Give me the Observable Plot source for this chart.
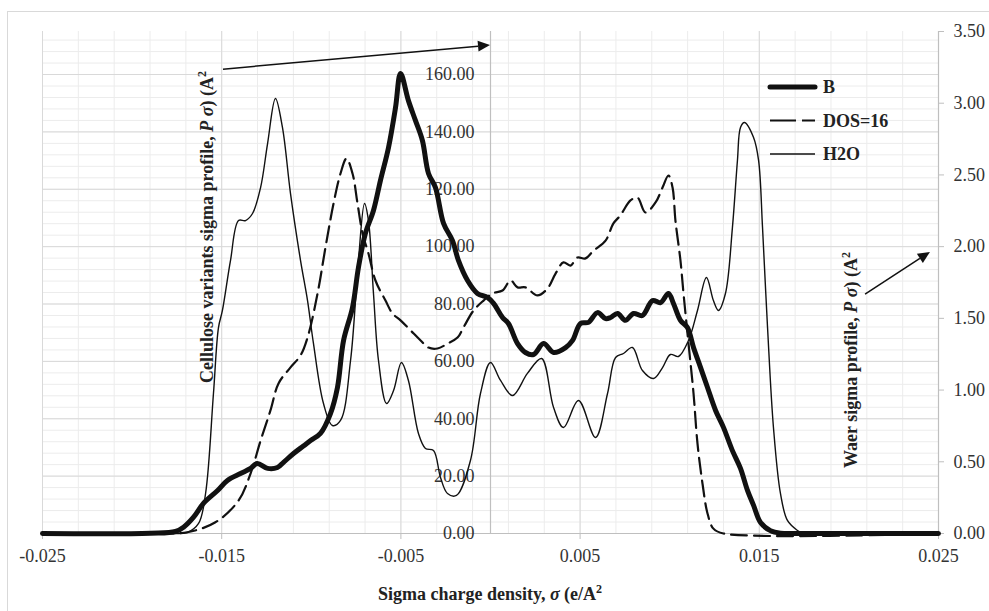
<!DOCTYPE html>
<html><head><meta charset="utf-8">
<script src="https://cdn.jsdelivr.net/npm/d3@7"></script>
<script src="https://cdn.jsdelivr.net/npm/@observablehq/plot@0.6"></script>
<style>body{margin:0;background:#fff} #chart{width:989px;height:611px}</style>
</head><body><div id="chart"></div>
<script>
// ---- data (sigma in e/A^2, profile values) ----
const seriesNames = ["B", "DOS=16", "H2O"];
const xTicks = [-0.025, -0.015, -0.005, 0.005, 0.015, 0.025];
const leftTicks = [0, 20, 40, 60, 80, 100, 120, 140, 160];
const rightTicks = [0, 0.5, 1, 1.5, 2, 2.5, 3, 3.5];
const leftMax = 175, rightMax = 3.5;

// B (left axis)
const B = [[-0.025,0],[-0.01897,0.1],[-0.01758,0.7],[-0.01713,2.2],[-0.01657,5.7],[-0.01602,10.5],[-0.01523,15.0],[-0.01468,18.5],[-0.01395,20.9],[-0.01339,22.7],[-0.01302,24.4],[-0.01244,22.7],[-0.01189,23.0],[-0.01155,24.8],[-0.01099,27.9],[-0.01044,30.5],[-0.01004,32.4],[-0.00949,34.9],[-0.00893,41.8],[-0.00854,50.9],[-0.0082,67.3],[-0.0077,78.8],[-0.00737,92.7],[-0.00698,104.6],[-0.00653,112.6],[-0.00614,123.1],[-0.00569,134.6],[-0.0053,148.5],[-0.00502,160.4],[-0.00458,150.9],[-0.00419,144.0],[-0.0038,137.0],[-0.00346,125.5],[-0.00307,120.6],[-0.00262,108.1],[-0.00212,102.1],[-0.00179,95.2],[-0.00128,88.2],[-0.00073,83.7],[-0.00017,82.3],[0.00017,80.2],[0.00067,75.3],[0.001,73.2],[0.00151,66.2],[0.00195,63.1],[0.0024,62.4],[0.00296,66.2],[0.00352,63.1],[0.00419,64.8],[0.00458,67.3],[0.00502,73.2],[0.00547,73.6],[0.00597,77.0],[0.00642,74.9],[0.0067,75.3],[0.00709,76.7],[0.00753,74.3],[0.00798,76.7],[0.00848,76.0],[0.00904,81.2],[0.00949,80.5],[0.00993,83.7],[0.01021,80.2],[0.0106,74.3],[0.01099,71.8],[0.01133,64.8],[0.01172,57.9],[0.01211,50.9],[0.01256,42.9],[0.013,37.0],[0.0135,28.9],[0.01395,22.7],[0.01434,15.0],[0.01468,9.8],[0.01507,3.8],[0.01562,1.0],[0.01618,0.1],[0.0173,0],[0.025,0]];

// DOS=16 (left axis)
const DOS = [[-0.025,0],[-0.01842,0],[-0.01691,0.45],[-0.01535,3.9],[-0.01406,11.5],[-0.01339,20.9],[-0.01283,32.4],[-0.01228,42.9],[-0.01183,52.3],[-0.01116,57.9],[-0.0106,62.1],[-0.01021,68.3],[-0.00965,83.7],[-0.00921,99.7],[-0.00876,115.0],[-0.00837,125.5],[-0.00804,130.7],[-0.0077,125.5],[-0.00742,115.0],[-0.00714,104.6],[-0.00681,97.6],[-0.00642,88.2],[-0.00586,81.2],[-0.00547,76.7],[-0.00502,74.3],[-0.00446,70.8],[-0.0039,67.3],[-0.00346,64.8],[-0.00296,64.5],[-0.0024,66.2],[-0.00184,68.3],[-0.00151,71.8],[-0.00095,77.7],[-0.00039,81.2],[0.00011,83.7],[0.00067,84.7],[0.00112,88.2],[0.00151,85.8],[0.00195,85.8],[0.00262,83.0],[0.00318,85.4],[0.00363,90.6],[0.00407,94.5],[0.00446,93.4],[0.00485,96.2],[0.0053,95.9],[0.00575,98.6],[0.00642,102.1],[0.00686,108.1],[0.00725,110.9],[0.00781,116.1],[0.0082,117.1],[0.00865,111.9],[0.00921,115.4],[0.0096,120.6],[0.00993,124.8],[0.01016,120.6],[0.01032,109.1],[0.0106,95.2],[0.01077,83.7],[0.01105,66.2],[0.01133,48.8],[0.01155,31.4],[0.01183,17.4],[0.01211,7.0],[0.01244,1.7],[0.013,0],[0.025,0]];

// H2O (right axis)
const H2O = [[-0.025,0],[-0.01786,0],[-0.01693,0.007],[-0.01629,0.07],[-0.0159,0.279],[-0.01546,0.976],[-0.01518,1.436],[-0.01496,1.555],[-0.01451,1.903],[-0.01406,2.182],[-0.01367,2.182],[-0.01328,2.231],[-0.01283,2.412],[-0.01244,2.719],[-0.012,3.033],[-0.01161,2.831],[-0.01116,2.37],[-0.0106,1.903],[-0.01021,1.624],[-0.00988,1.325],[-0.00932,0.906],[-0.00882,0.753],[-0.00837,0.788],[-0.00781,1.206],[-0.00737,1.903],[-0.00703,2.301],[-0.00681,2.182],[-0.00653,1.673],[-0.00625,1.206],[-0.0058,0.906],[-0.00541,0.997],[-0.00497,1.192],[-0.00458,1.067],[-0.00402,0.697],[-0.00363,0.593],[-0.00318,0.579],[-0.00279,0.39],[-0.0024,0.279],[-0.0019,0.265],[-0.00112,0.509],[-0.00056,0.976],[0,1.192],[0.00056,1.067],[0.00123,0.962],[0.00206,1.116],[0.00285,1.22],[0.00352,0.878],[0.00407,0.739],[0.00491,0.927],[0.00586,0.669],[0.00653,0.976],[0.00698,1.227],[0.00742,1.255],[0.00792,1.297],[0.00848,1.136],[0.0091,1.081],[0.0096,1.157],[0.01004,1.248],[0.01049,1.234],[0.01105,1.346],[0.01155,1.555],[0.01205,1.785],[0.01244,1.624],[0.01272,1.555],[0.01311,1.673],[0.0135,2.133],[0.01378,2.601],[0.01395,2.831],[0.01417,2.866],[0.01468,2.761],[0.01496,2.601],[0.01518,2.133],[0.01546,1.436],[0.01579,0.739],[0.01618,0.279],[0.01657,0.091],[0.01713,0.021],[0.01741,0.003],[0.0184,0],[0.025,0]];

// annotation arrows (data units of x and left y)
const arrows = [
  {x1: -0.0149, y1: 161.7, x2: 0, y2: 170.1},
  {x1: 0.02093, y1: 83.3, x2: 0.02455, y2: 98.0}
];

const k = leftMax / rightMax;
const minorX = d3.range(0, 26).map(i => -0.025 + i * 0.002);
const minorY = d3.range(0, 44).map(i => i * 4);
const font = "'Liberation Serif', 'Times New Roman', serif";

const plot = Plot.plot({
  width: 989, height: 611,
  marginLeft: 42, marginRight: 51, marginTop: 31, marginBottom: 78,
  style: {fontFamily: font, fontSize: "18px", background: "transparent", color: "#333"},
  x: {domain: [-0.025, 0.025]},
  y: {domain: [0, leftMax]},
  marks: [
    Plot.ruleX(minorX, {stroke: "#ececec", strokeWidth: 1}),
    Plot.ruleY(minorY, {stroke: "#ececec", strokeWidth: 1}),
    Plot.ruleX(xTicks, {stroke: "#d9d9d9", strokeWidth: 1}),
    Plot.ruleY(leftTicks, {stroke: "#d9d9d9", strokeWidth: 1}),
    Plot.ruleX([0], {stroke: "#bfbfbf", strokeWidth: 1.2}),
    Plot.ruleX([0.025], {stroke: "#bfbfbf", strokeWidth: 1.2}),
    Plot.ruleY([0], {stroke: "#bfbfbf", strokeWidth: 1.2}),
    Plot.axisX(xTicks, {tickSize: 6, tickPadding: 10, tickFormat: d => d.toFixed(3), stroke: "#bfbfbf", fill: "#333", fontSize: 18, label: null}),
    Plot.axisY(rightTicks.map(t => t * k), {anchor: "right", tickSize: 5, tickPadding: 10, tickFormat: d => (d / k).toFixed(2), stroke: "#bfbfbf", fill: "#333", fontSize: 18, label: null}),
    Plot.text(leftTicks, {x: 0, y: d => d, text: d => d.toFixed(2), textAnchor: "end", dx: -16, fill: "#333", fontSize: 18}),
    Plot.line(H2O, {x: d => d[0], y: d => d[1] * k, stroke: "#111", strokeWidth: 1.4, curve: "catmull-rom"}),
    Plot.line(DOS, {x: d => d[0], y: d => d[1], stroke: "#111", strokeWidth: 2.2, strokeDasharray: "16,7", curve: "catmull-rom"}),
    Plot.line(B, {x: d => d[0], y: d => d[1], stroke: "#111", strokeWidth: 5, strokeLinejoin: "round", strokeLinecap: "round", curve: "catmull-rom"})
  ]
});

const svg = d3.select(plot);
// outer chart border
svg.insert("rect", ":first-child").attr("x", 7.5).attr("y", 11.5).attr("width", 1000).attr("height", 620)
  .attr("fill", "#fff").attr("stroke", "#d9d9d9");

const sx = plot.scale("x"), sy = plot.scale("y");
// arrows
arrows.forEach(a => {
  const x1 = sx.apply(a.x1), y1 = sy.apply(a.y1), x2 = sx.apply(a.x2), y2 = sy.apply(a.y2);
  const ang = Math.atan2(y2 - y1, x2 - x1), L = 12, W = 5.5;
  const bx = x2 - L * Math.cos(ang), by = y2 - L * Math.sin(ang);
  svg.append("line").attr("x1", x1).attr("y1", y1).attr("x2", bx).attr("y2", by)
    .attr("stroke", "#111").attr("stroke-width", 1.5);
  const px = -Math.sin(ang) * W, py = Math.cos(ang) * W;
  svg.append("path").attr("d", `M${x2},${y2}L${bx + px},${by + py}L${bx - px},${by - py}Z`).attr("fill", "#111");
});

function title(g, parts) {
  const t = g.append("text").attr("text-anchor", "middle").attr("font-family", font)
    .attr("font-size", 18).attr("font-weight", "bold").attr("fill", "#222");
  parts.forEach(p => {
    const s = t.append("tspan").text(p.t);
    if (p.i) s.attr("font-style", "italic");
    if (p.sup) s.attr("font-size", 12).attr("dy", "-0.55em");
  });
}
title(svg.append("g").attr("transform", "translate(490,600)"),
  [{t: "Sigma charge density, "}, {t: "σ", i: 1}, {t: " (e/A"}, {t: "2", sup: 1}]);
title(svg.append("g").attr("transform", "translate(213,227) rotate(-90)"),
  [{t: "Cellulose variants sigma profile, "}, {t: "P", i: 1}, {t: " "}, {t: "σ", i: 1}, {t: ") (A"}, {t: "2", sup: 1}]);
title(svg.append("g").attr("transform", "translate(857,360) rotate(-90)"),
  [{t: "Waer sigma profile, "}, {t: "P", i: 1}, {t: " "}, {t: "σ", i: 1}, {t: ") (A"}, {t: "2", sup: 1}]);

// legend
const legendStyles = [
  {w: 5, dash: null, cap: "round"},
  {w: 2.2, dash: "26,6", cap: "butt"},
  {w: 1.4, dash: null, cap: "butt"}
];
seriesNames.forEach((name, i) => {
  const y = 87 + i * 33.5, st = legendStyles[i];
  const ln = svg.append("line").attr("x1", 770).attr("x2", 815).attr("y1", y).attr("y2", y)
    .attr("stroke", "#111").attr("stroke-width", st.w).attr("stroke-linecap", st.cap);
  if (st.dash) ln.attr("stroke-dasharray", st.dash);
  svg.append("text").attr("x", 823).attr("y", y + 6).attr("text-anchor", "start").attr("font-family", font)
    .attr("font-size", 18).attr("font-weight", "bold").attr("fill", "#222").text(name);
});

document.getElementById("chart").append(plot);
</script>
</body></html>
